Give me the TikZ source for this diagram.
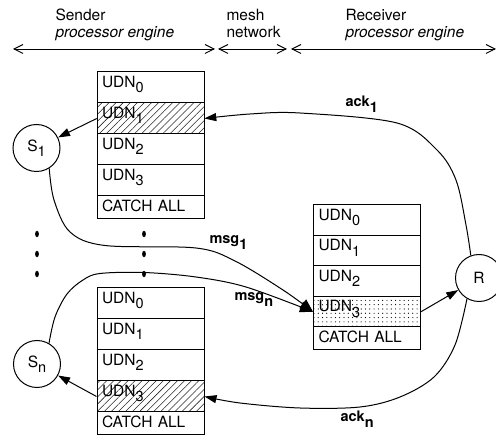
\documentclass[tikz,border=0pt]{standalone}
\usepackage{fontspec}
\setmainfont{TeX Gyre Heros}
\usetikzlibrary{arrows.meta,patterns.meta}

% lowered index, as in UDN_0 or S_1
\newcommand\lowsub[1]{\raisebox{-5.5pt}{\fontsize{14.5}{14.5}\selectfont #1}}

\begin{document}
\begin{tikzpicture}[x=1pt,y=-1pt,
  font=\fontsize{15.5}{17}\selectfont,
  line width=1pt,
  cell/.style={draw, line width=1pt, minimum height=31pt, text width=97pt,
    inner xsep=5pt, inner ysep=0pt, align=left, text height=11pt, text depth=11pt},
  rcell/.style={cell, minimum height=30.5pt},
  catchcell/.style={cell, minimum height=23pt, text height=11pt, text depth=2pt},
  hatched/.style={pattern={Lines[angle=45,distance=5pt,line width=0.55pt]}, pattern color=black!85},
  dotted cell/.style={pattern={Dots[distance=4.3pt,radius=0.6pt]}, pattern color=black},
  engine/.style={circle, draw, line width=1pt, minimum size=47pt, inner sep=0pt},
  hdr/.style={inner sep=0pt, anchor=base west},
  span/.style={line width=0.9pt, {Straight Barb[length=9pt,width=9pt]}-{Straight Barb[length=9pt,width=9pt]}},
  conn/.style={line width=1pt, -{Triangle[length=12pt,width=8pt]}},
  msgarrow/.style={line width=1pt, -{Triangle[length=13pt,width=11pt]}},
  lbl/.style={inner sep=0pt, anchor=base west, font=\fontsize{14.5}{17}\selectfont\bfseries},
  dotmark/.style={fill=black}
]
\useasboundingbox (0,0) rectangle (496,438);

% header: extents of the three parts
\node[hdr] (sender)  at (55,21) {Sender};
\node[hdr] (sendpe)  at (55,38) {\itshape processor engine};
\node[hdr] (mesh)    at (226,21) {mesh};
\node[hdr] (network) at (226,38) {network};
\node[hdr] (recv)    at (345,21) {Receiver};
\node[hdr] (recvpe)  at (345,38) {\itshape processor engine};
\coordinate (h0) at (13,49);  \coordinate (h1) at (215,49);
\coordinate (h2) at (218,49); \coordinate (h3) at (287,49);
\coordinate (h4) at (291,49); \coordinate (h5) at (496,49);
\draw[span] (h0) -- (h1);
\draw[span] (h2) -- (h3);
\draw[span] (h4) -- (h5);

% sender 1 queues
\node[cell] (a0) at (150.5,87.5) {UDN\lowsub{0}};
\node[cell,hatched] (a1) at (150.5,118.5) {UDN\lowsub{1}};
\node[cell] (a2) at (150.5,149.5) {UDN\lowsub{2}};
\node[cell] (a3) at (150.5,180.5) {UDN\lowsub{3}};
\node[catchcell] (aC) at (150.5,207.5) {CATCH ALL};

% sender n queues
\node[cell] (b0) at (150.5,303.5) {UDN\lowsub{0}};
\node[cell] (b1) at (150.5,334.5) {UDN\lowsub{1}};
\node[cell] (b2) at (150.5,365.5) {UDN\lowsub{2}};
\node[cell,hatched] (b3) at (150.5,396.5) {UDN\lowsub{3}};
\node[catchcell] (bC) at (150.5,423.5) {CATCH ALL};

% receiver queues
\node[rcell] (c0) at (367,220.25) {UDN\lowsub{0}};
\node[rcell] (c1) at (367,250.75) {UDN\lowsub{1}};
\node[rcell] (c2) at (367,281.25) {UDN\lowsub{2}};
\node[rcell,dotted cell] (c3) at (367,311.75) {UDN\lowsub{3}};
\node[catchcell] (cC) at (367,338.5) {CATCH ALL};

% engines
\node[engine] (S1) at (36.5,148) {S\lowsub{1}};
\node[engine] (Sn) at (37,364) {S\lowsub{n}};
\node[engine] (R)  at (479,278) {R};

% ellipsis dots
\foreach \yy in {234,254,274} {
  \fill[dotmark] (37,\yy) ellipse [x radius=1.9pt, y radius=3.2pt];
  \fill[dotmark] (144,\yy) ellipse [x radius=1.9pt, y radius=3.2pt];
}

% local deliveries
\draw[conn] (a1.west) -- (S1);
\draw[conn] (b3.west) -- (Sn);
\draw[conn] (c3.east) -- (R);

% messages
\draw[msgarrow] plot[smooth, tension=0.55] coordinates
  {(S1.-58) (54,200) (70,232) (105,245.5) (196,248) (235,261) (283,290) (c3.west)};
\draw[msgarrow] plot[smooth, tension=0.55] coordinates
  {(Sn.60) (55,317) (67,294) (83,280) (100,273.5) (144,272.5) (196,277) (246,287) (c3.west)};

% acknowledgements
\draw[conn] plot[smooth, tension=0.55] coordinates
  {(R.110) (466,225) (456,180) (437,150) (397,123) (300,113) (250,114) (a1.east)};
\draw[conn] plot[smooth, tension=0.55] coordinates
  {(R.-120) (455,345) (434,377) (400,397) (360,407) (300,408) (240,403) (b3.east)};

% labels
\node[lbl] (lack1) at (345,107) {ack\lowsub{1}};
\node[lbl] (lackn) at (340,422) {ack\lowsub{n}};
\node[lbl] (lmsg1) at (209,244) {msg\lowsub{1}};
\node[lbl] (lmsgn) at (234,301) {msg\lowsub{n}};
\end{tikzpicture}
\end{document}
